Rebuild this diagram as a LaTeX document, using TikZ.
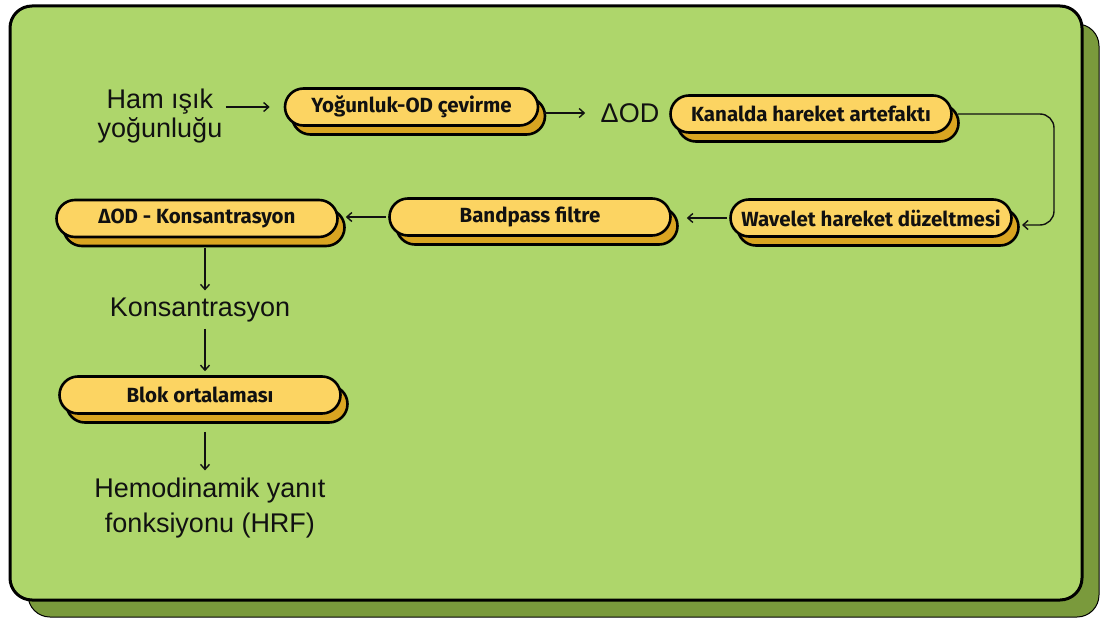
\documentclass[tikz,border=0pt]{standalone}
\usepackage{fontspec}
\setmainfont{Liberation Sans}
\newfontfamily\pillfont{Fira Sans}
\usetikzlibrary{shadows,arrows.meta}
\definecolor{bggreen}{HTML}{AED66B}
\definecolor{shgreen}{HTML}{7A9A3C}
\definecolor{pillyel}{HTML}{FCD462}
\definecolor{pillsh}{HTML}{D9A521}
\definecolor{ink}{HTML}{111111}
\tikzset{
  pill/.style={draw=black, line width=2.6pt, fill=pillyel, rounded corners=18.5pt,
    minimum height=37pt, minimum width=281pt, inner sep=0pt, text=ink,
    font=\pillfont\bfseries\fontsize{20.5}{22}\selectfont,
    general shadow={fill=pillsh, draw=black, line width=2.6pt, shadow xshift=7pt, shadow yshift=-9pt}},
  lbl/.style={font=\fontsize{27}{29}\selectfont, align=center, text=ink},
  conn/.style={line width=1.4pt, draw=ink, -{Straight Barb[length=5pt,width=9pt]}}
}
\begin{document}
\begin{tikzpicture}[x=1pt,y=-1pt]
\useasboundingbox (0,0) rectangle (1100,618);
% panel
\draw[fill=shgreen, line width=1pt, rounded corners=22pt] (28,24) rectangle (1099,617);
\draw[fill=bggreen, line width=3pt, rounded corners=22pt] (10,6) rectangle (1082,600);
% nodes
\node[lbl] (ham) at (160,116) {Ham ışık\\yoğunluğu};
\node[pill, minimum width=253pt] (p1) at (411.5,107) {Yoğunluk-OD çevirme};
\node[lbl] (dod) at (630,113) {ΔOD};
\node[pill] (p2) at (811,114) {Kanalda hareket artefaktı};
\node[pill] (p3) at (871,218) {Wavelet hareket düzeltmesi};
\node[pill] (p4) at (530,217) {Bandpass filtre};
\node[pill] (p5) at (197,218.5) {ΔOD - Konsantrasyon};
\node[lbl] (kons) at (200,310) {Konsantrasyon};
\node[pill] (p6) at (200,395) {Blok ortalaması};
\node[lbl, font=\fontsize{27}{35}\selectfont] (hrf) at (210,508) {Hemodinamik yanıt\\fonksiyonu (HRF)};
\coordinate (turn) at (1054,114);
\coordinate (p3in) at (1022,225);
% connectors
\draw[conn, shorten >=14pt] (ham.east |- p1.west) -- (p1.west);
\draw[conn, shorten <=5pt, shorten >=12pt] (p1.east |- dod.west) -- (dod.west);
\draw[conn, rounded corners=14pt, shorten <=5pt] (p2.east) -- (turn) |- (p3in);
\draw[conn, shorten <=2pt, shorten >=15pt] (p3.west) -- (p3.west -| p4.east);
\draw[conn, shorten <=2pt, shorten >=7pt] (p4.west) -- (p4.west -| p5.east);
\draw[conn, shorten <=10pt, shorten >=4pt] ([xshift=8pt]p5.south) -- ([xshift=8pt]p5.south |- kons.north);
\draw[conn, shorten <=3pt, shorten >=4pt] ([xshift=5pt]kons.south) -- ([xshift=5pt]kons.south |- p6.north);
\draw[conn, shorten <=17pt, shorten >=4pt] ([xshift=5pt]p6.south) -- ([xshift=5pt]p6.south |- hrf.north);
\end{tikzpicture}
\end{document}
